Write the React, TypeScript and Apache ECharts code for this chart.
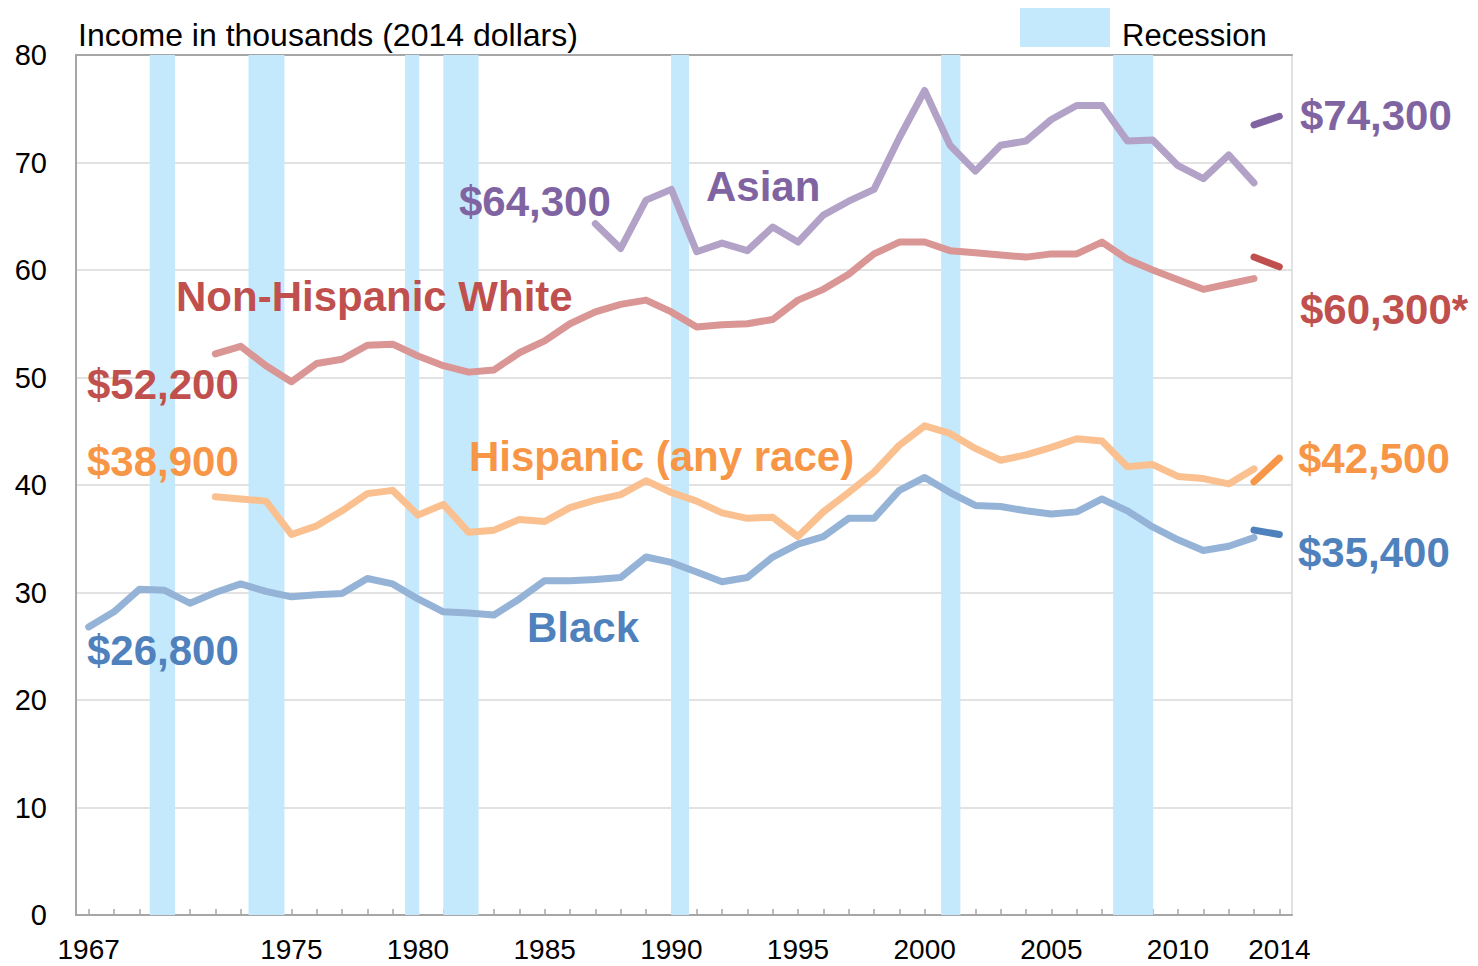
import { useEffect, useRef } from "react";
import * as echarts from "echarts";

// Categories (years)
const years = [
  "1967", "1968", "1969", "1970", "1971", "1972", "1973", "1974", "1975", "1976",
  "1977", "1978", "1979", "1980", "1981", "1982", "1983", "1984", "1985", "1986",
  "1987", "1988", "1989", "1990", "1991", "1992", "1993", "1994", "1995", "1996",
  "1997", "1998", "1999", "2000", "2001", "2002", "2003", "2004", "2005", "2006",
  "2007", "2008", "2009", "2010", "2011", "2012", "2013", "2014",
];
const labelYears = ["1967", "1975", "1980", "1985", "1990", "1995", "2000", "2005", "2010", "2014"];

// Median household income, thousands of 2014 dollars (old series, through 2013)
const blackStart = 1967;
const blackValues = [
  26.8, 28.2, 30.3, 30.2, 29.0, 30.0, 30.8, 30.1, 29.6, 29.8,
  29.9, 31.3, 30.8, 29.4, 28.2, 28.1, 27.9, 29.4, 31.1, 31.1,
  31.2, 31.4, 33.3, 32.8, 31.9, 31.0, 31.4, 33.3, 34.5, 35.2,
  36.9, 36.9, 39.5, 40.7, 39.3, 38.1, 38.0, 37.6, 37.3, 37.5,
  38.7, 37.6, 36.1, 34.9, 33.9, 34.3, 35.1,
];
const hispanicStart = 1972;
const hispanicValues = [
  38.9, 38.7, 38.5, 35.4, 36.2, 37.6, 39.2, 39.5, 37.2, 38.2,
  35.6, 35.8, 36.8, 36.6, 37.9, 38.6, 39.1, 40.4, 39.3, 38.5,
  37.4, 36.9, 37.0, 35.2, 37.5, 39.3, 41.2, 43.7, 45.5, 44.8,
  43.4, 42.3, 42.8, 43.5, 44.3, 44.1, 41.7, 41.9, 40.8, 40.6,
  40.1, 41.5,
];
const whiteStart = 1972;
const whiteValues = [
  52.2, 52.9, 51.1, 49.6, 51.3, 51.7, 53.0, 53.1, 52.0, 51.1,
  50.5, 50.7, 52.3, 53.4, 55.0, 56.1, 56.8, 57.2, 56.1, 54.7,
  54.9, 55.0, 55.4, 57.2, 58.2, 59.6, 61.5, 62.6, 62.6, 61.8,
  61.6, 61.4, 61.2, 61.5, 61.5, 62.6, 61.0, 60.0, 59.1, 58.2,
  58.7, 59.2,
];
const asianStart = 1987;
const asianValues = [
  64.3, 62.0, 66.5, 67.5, 61.7, 62.5, 61.8, 64.0, 62.6, 65.1,
  66.4, 67.5, 72.3, 76.7, 71.6, 69.2, 71.6, 72.0, 74.0, 75.3,
  75.3, 72.0, 72.1, 69.7, 68.5, 70.7, 68.1,
];

// Redesigned survey segment (2013 new estimate, 2014)
const newStart = 2013;
const asianNew = [73.5, 74.3];
const whiteNew = [61.2, 60.3];
const hispanicNew = [40.3, 42.5];
const blackNew = [35.8, 35.4];

// Recession periods (fractional years)
const recessionStart = [1969.41, 1973.31, 1979.49, 1981.0, 1989.99, 2000.65, 2007.44];
const recessionEnd = [1970.41, 1974.73, 1980.05, 1982.39, 1990.7, 2001.41, 2009.02];

// Value labels
const asianLabels = ["$64,300", "$74,300"];
const whiteLabels = ["$52,200", "$60,300*"];
const hispanicLabels = ["$38,900", "$42,500"];
const blackLabels = ["$26,800", "$35,400"];

const FONT = "'Liberation Sans', Arial, Helvetica, sans-serif";

const COLORS = {
  asian: { light: "#b3a2c7", dark: "#8064a2" },
  white: { light: "#d99694", dark: "#c0504d" },
  hispanic: { light: "#fac090", dark: "#f79646" },
  black: { light: "#95b3d7", dark: "#4f81bd" },
};

function pad(start: number, vals: number[]) {
  return years.map((y) => {
    const i = Number(y) - start;
    return i >= 0 && i < vals.length ? vals[i] : null;
  });
}

function lineSeries(name: string, data: (number | null)[], color: string, z: number) {
  return {
    name,
    type: "line",
    data,
    symbol: "none",
    showSymbol: false,
    silent: true,
    connectNulls: false,
    z,
    lineStyle: { width: 7, color, cap: "round", join: "round" },
    emphasis: { disabled: true },
  };
}

function label(text: string, x: number, y: number, color: string) {
  return {
    type: "text",
    x,
    y,
    z: 100,
    silent: true,
    style: {
      text,
      fill: color,
      font: `bold 42px ${FONT}`,
      textAlign: "left",
      textVerticalAlign: "middle",
    },
  };
}

export default function App() {
  const ref = useRef<HTMLDivElement>(null);

  useEffect(() => {
    if (!ref.current) return;
    const chart = echarts.init(ref.current, undefined, { renderer: "svg" });

    const option = {
      animation: false,
      backgroundColor: "#ffffff",
      grid: {
        left: 76,
        right: 186,
        top: 55,
        bottom: 51,
        show: true,
        borderColor: "#d9d9d9",
        borderWidth: 1.5,
        backgroundColor: "transparent",
      },
      xAxis: [
        {
          type: "category",
          data: years,
          boundaryGap: true,
          axisLine: { show: true, lineStyle: { color: "#a6a6a6", width: 2 } },
          axisTick: {
            show: true,
            alignWithLabel: true,
            interval: 0,
            inside: true,
            length: 6,
            lineStyle: { color: "#a6a6a6", width: 1.5 },
          },
          axisLabel: {
            interval: (_i: number, v: string) => labelYears.includes(v),
            fontFamily: FONT,
            fontSize: 28,
            color: "#000",
            margin: 20,
          },
          splitLine: { show: false },
        },
        {
          type: "value",
          position: "top",
          min: 1966.5,
          max: 2014.5,
          axisLine: { show: true, onZero: false, lineStyle: { color: "#a6a6a6", width: 2 } },
          axisTick: { show: false },
          axisLabel: { show: false },
          splitLine: { show: false },
        },
      ],
      yAxis: {
        type: "value",
        min: 0,
        max: 80,
        interval: 10,
        axisLine: { show: true, lineStyle: { color: "#a6a6a6", width: 2 } },
        axisTick: { show: false },
        axisLabel: { fontFamily: FONT, fontSize: 29, color: "#000", margin: 29 },
        splitLine: { show: true, lineStyle: { color: "#d9d9d9", width: 1.5 } },
      },
      series: [
        {
          name: "Recession",
          type: "line",
          xAxisIndex: 1,
          data: [],
          silent: true,
          z: 1,
          markArea: {
            silent: true,
            itemStyle: { color: "#c4e9fc" },
            data: recessionStart.map((s, i) => [{ xAxis: s }, { xAxis: recessionEnd[i] }]),
          },
        },
        lineSeries("Asian", pad(asianStart, asianValues), COLORS.asian.light, 3),
        lineSeries("Non-Hispanic White", pad(whiteStart, whiteValues), COLORS.white.light, 3),
        lineSeries("Hispanic (any race)", pad(hispanicStart, hispanicValues), COLORS.hispanic.light, 3),
        lineSeries("Black", pad(blackStart, blackValues), COLORS.black.light, 3),
        lineSeries("Asian 2013-2014", pad(newStart, asianNew), COLORS.asian.dark, 4),
        lineSeries("White 2013-2014", pad(newStart, whiteNew), COLORS.white.dark, 4),
        lineSeries("Hispanic 2013-2014", pad(newStart, hispanicNew), COLORS.hispanic.dark, 4),
        lineSeries("Black 2013-2014", pad(newStart, blackNew), COLORS.black.dark, 4),
      ],
      graphic: [
        {
          type: "text",
          x: 78,
          y: 35,
          z: 100,
          silent: true,
          style: {
            text: "Income in thousands (2014 dollars)",
            fill: "#000",
            font: `32px ${FONT}`,
            textAlign: "left",
            textVerticalAlign: "middle",
          },
        },
        {
          type: "rect",
          shape: { x: 1020, y: 8, width: 90, height: 39 },
          z: 100,
          silent: true,
          style: { fill: "#c4e9fc" },
        },
        {
          type: "text",
          x: 1122,
          y: 35,
          z: 100,
          silent: true,
          style: {
            text: "Recession",
            fill: "#000",
            font: `31px ${FONT}`,
            textAlign: "left",
            textVerticalAlign: "middle",
          },
        },
        label(asianLabels[0], 459, 201, COLORS.asian.dark),
        label("Asian", 706, 186, COLORS.asian.dark),
        label("Non-Hispanic White", 176, 296, COLORS.white.dark),
        label(whiteLabels[0], 87, 384, COLORS.white.dark),
        label(hispanicLabels[0], 87, 461, COLORS.hispanic.dark),
        label("Hispanic (any race)", 469, 456, COLORS.hispanic.dark),
        label(blackLabels[0], 87, 650, COLORS.black.dark),
        label("Black", 527, 627, COLORS.black.dark),
        label(asianLabels[1], 1300, 115, COLORS.asian.dark),
        label(whiteLabels[1], 1300, 309, COLORS.white.dark),
        label(hispanicLabels[1], 1298, 458, COLORS.hispanic.dark),
        label(blackLabels[1], 1298, 552, COLORS.black.dark),
      ],
    };

    chart.setOption(option as any);
    return () => chart.dispose();
  }, []);

  return (
    <div
      ref={ref}
      style={{ position: "fixed", left: 0, top: 0, width: 1478, height: 966, background: "#fff" }}
    />
  );
}
